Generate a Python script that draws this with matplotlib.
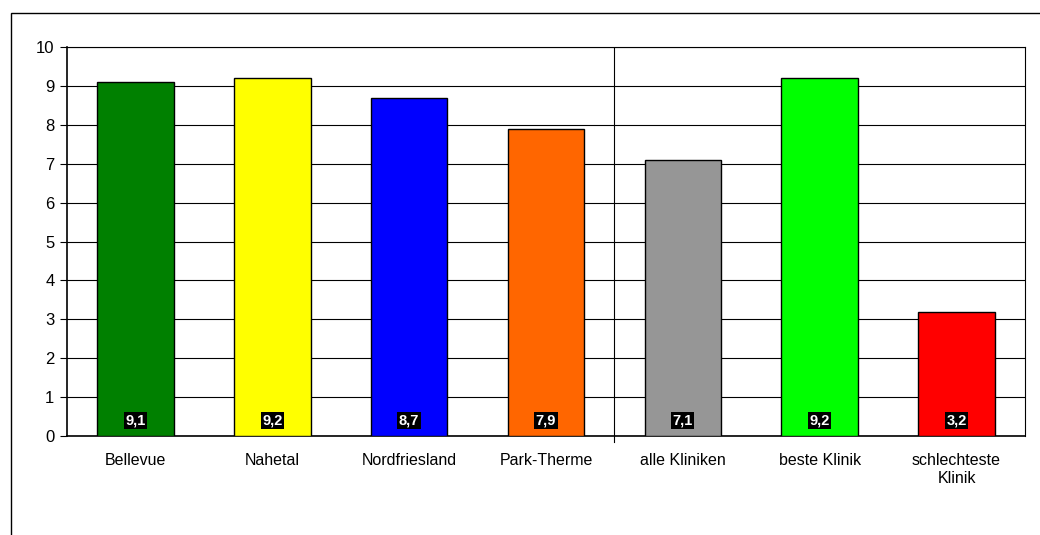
import matplotlib.pyplot as plt
from matplotlib.patches import Rectangle

plt.rcParams['font.family'] = ['Liberation Sans', 'DejaVu Sans']

categories = ['Bellevue', 'Nahetal', 'Nordfriesland', 'Park-Therme',
              'alle Kliniken', 'beste Klinik', 'schlechteste\nKlinik']
values = [9.1, 9.2, 8.7, 7.9, 7.1, 9.2, 3.2]
labels = ['9,1', '9,2', '8,7', '7,9', '7,1', '9,2', '3,2']
colors = ['#008000', '#FFFF00', '#0000FF', '#FF6600', '#969696', '#00FF00', '#FF0000']

W, H = 1040, 535
fig = plt.figure(figsize=(W / 100, H / 100), dpi=100)

# outer chart border (right/bottom run off the picture)
fig.patches.append(Rectangle((11 / W, -0.5), 1.5, 1.5 - 13 / H, transform=fig.transFigure,
                             fill=False, edgecolor='black', linewidth=1.0))

ax = fig.add_axes([67 / W, 1 - 436 / H, (1025 - 67) / W, (436 - 47) / H])

x = list(range(len(categories)))
ax.bar(x, values, width=0.56, color=colors, edgecolor='black', linewidth=1.0, zorder=3)

for xi, lab in zip(x, labels):
    ax.text(xi, 0.4, lab, ha='center', va='center', color='white', fontsize=10.5,
            fontweight='bold', zorder=4,
            bbox=dict(boxstyle='square,pad=0.1', facecolor='black', edgecolor='none'))

ax.set_xlim(-0.5, len(categories) - 0.5)
ax.set_ylim(0, 10)
ax.set_yticks(range(0, 11))
ax.yaxis.grid(True, color='black', linewidth=0.8, zorder=0)
ax.set_axisbelow(True)

# separator between clinics and comparison values
ax.axvline(3.5, color='black', linewidth=0.8, zorder=2)
ax.plot([3.5, 3.5], [0, -0.15], color='black', linewidth=0.8, clip_on=False)

ax.set_xticks(x)
ax.set_xticklabels(categories, fontsize=11.5, linespacing=1.3)
ax.tick_params(axis='x', length=0, pad=12)
ax.tick_params(axis='y', length=5, width=0.8, labelsize=12, pad=4)

for s in ax.spines.values():
    s.set_color('black')
    s.set_linewidth(0.8)
ax.spines['left'].set_linewidth(1.2)
ax.spines['bottom'].set_linewidth(1.2)

fig.savefig('out.png', dpi=100)
